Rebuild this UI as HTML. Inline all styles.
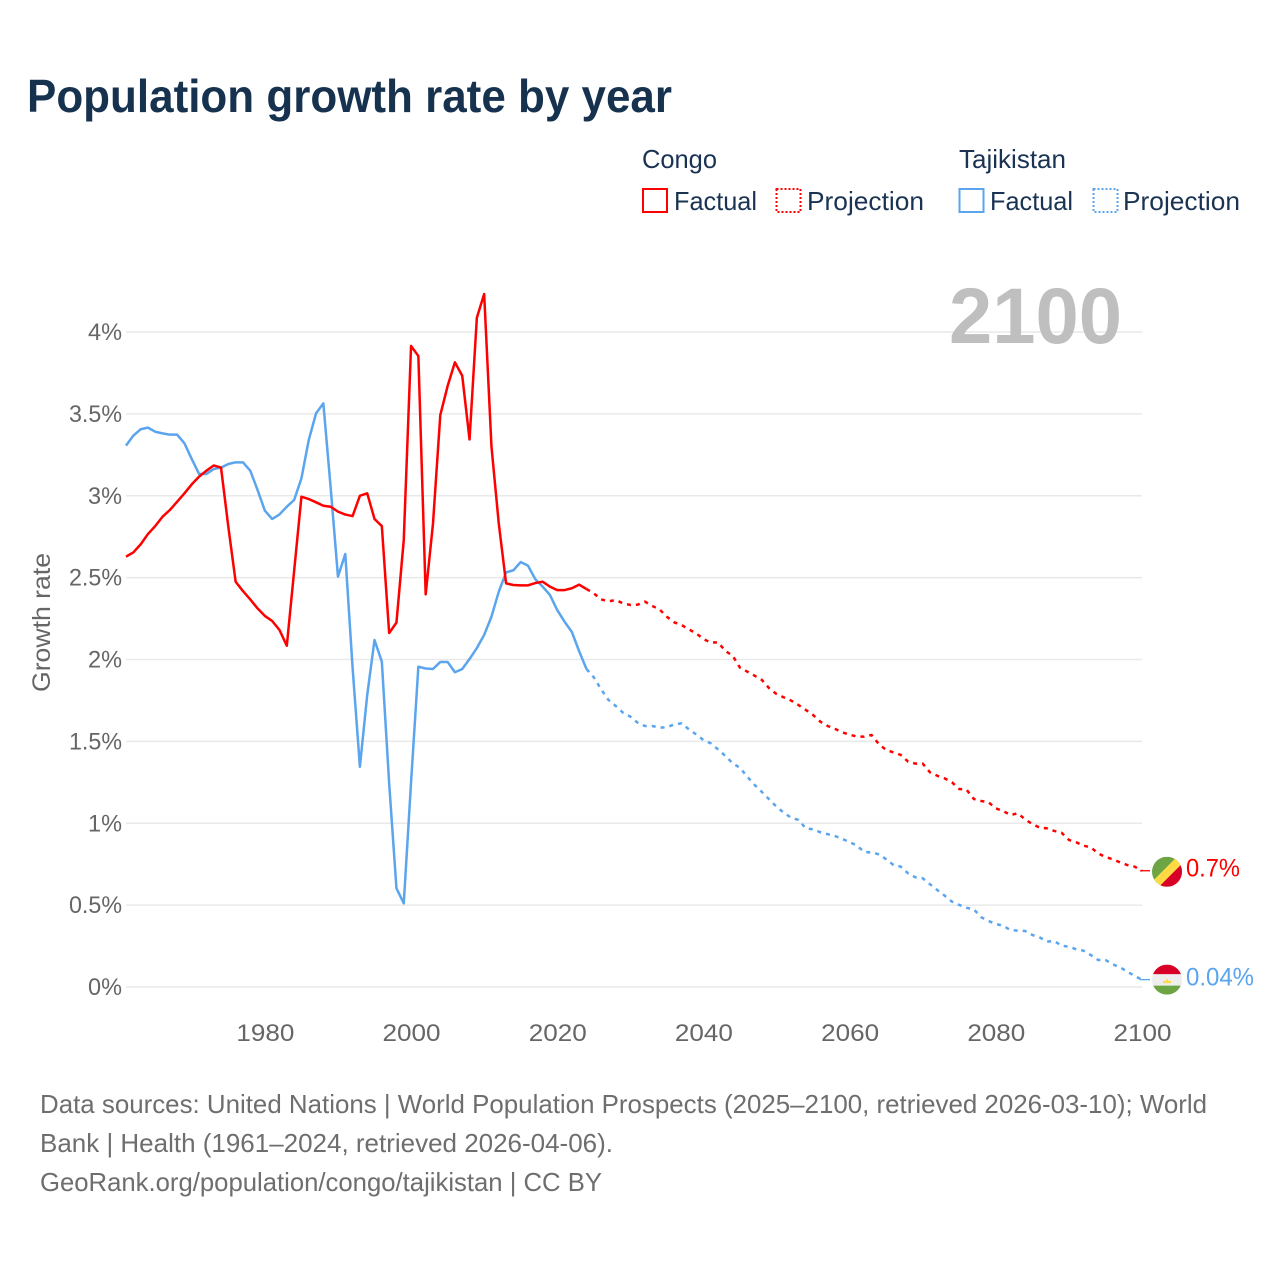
<!DOCTYPE html>
<html lang="en">
<head>
<meta charset="utf-8">
<title>Population growth rate by year</title>
<style>
html,body{margin:0;padding:0;background:#fff;}
svg{display:block;font-family:"Liberation Sans",sans-serif;}
</style>
</head>
<body>
<svg id="chart" xmlns="http://www.w3.org/2000/svg" width="1280" height="1280" viewBox="0 0 1280 1280">
  <defs>
    <clipPath id="flag-clip"><circle cx="0" cy="0" r="15"/></clipPath>
  </defs>
  <rect x="0" y="0" width="1280" height="1280" fill="#ffffff"/>
  <text x="27" y="112" font-size="46.5" font-weight="700" fill="#17324f" textLength="645" lengthAdjust="spacingAndGlyphs">Population growth rate by year</text>

  <g font-size="26" fill="#1a3353">
    <text x="642" y="168" textLength="75" lengthAdjust="spacingAndGlyphs">Congo</text>
    <text x="959" y="168" textLength="107" lengthAdjust="spacingAndGlyphs">Tajikistan</text>
    <rect x="643" y="189" width="24" height="23" fill="none" stroke="#ff0000" stroke-width="2"/>
    <text x="674" y="210" textLength="83" lengthAdjust="spacingAndGlyphs">Factual</text>
    <rect x="776.5" y="189" width="24" height="23" fill="none" stroke="#ff0000" stroke-width="2" stroke-dasharray="2 2"/>
    <text x="807" y="210" textLength="117" lengthAdjust="spacingAndGlyphs">Projection</text>
    <rect x="959.5" y="189" width="24" height="23" fill="none" stroke="#5aa5ee" stroke-width="2"/>
    <text x="990" y="210" textLength="83" lengthAdjust="spacingAndGlyphs">Factual</text>
    <rect x="1093.5" y="189" width="24" height="23" fill="none" stroke="#5aa5ee" stroke-width="2" stroke-dasharray="2 2"/>
    <text x="1123" y="210" textLength="117" lengthAdjust="spacingAndGlyphs">Projection</text>
  </g>

  <g id="grid"></g>
  <g id="y-axis"></g>
  <g id="x-axis"></g>
  <text transform="translate(50,692) rotate(-90)" x="0" y="0" font-size="25" fill="#666666" textLength="139" lengthAdjust="spacingAndGlyphs">Growth rate</text>

  <text x="949" y="343" font-size="79" font-weight="700" fill="#bfbfbf" textLength="173" lengthAdjust="spacingAndGlyphs">2100</text>

  <g id="series"></g>

  <g id="flag-congo" clip-path="url(#flag-clip)">
    <rect x="-15" y="-15" width="30" height="30" fill="#6da544"/>
    <polygon points="-15,10 10,-15 15,-15 15,15 -15,15" fill="#ffda44"/>
    <polygon points="15,-8 15,15 -8,15" fill="#d80027"/>
  </g>
  <g id="flag-tajikistan" clip-path="url(#flag-clip)">
    <rect x="-15" y="-15" width="30" height="30" fill="#eeeeee"/>
    <rect x="-15" y="-15" width="30" height="9.5" fill="#d80027"/>
    <rect x="-15" y="6" width="30" height="9" fill="#6da544"/>
    <path d="M-4,3.5 L-4,0.5 L-2,2 L0,-1 L2,2 L4,0.5 L4,3.5 Z" fill="#ffda44"/>
  </g>

  <g id="end-labels"></g>

  <g font-size="26" fill="#6e6e6e">
    <text x="40" y="1113" textLength="1167" lengthAdjust="spacingAndGlyphs">Data sources: United Nations | World Population Prospects (2025–2100, retrieved 2026-03-10); World</text>
    <text x="40" y="1152" textLength="573" lengthAdjust="spacingAndGlyphs">Bank | Health (1961–2024, retrieved 2026-04-06).</text>
    <text x="40" y="1191" textLength="562" lengthAdjust="spacingAndGlyphs">GeoRank.org/population/congo/tajikistan | CC BY</text>
  </g>
</svg>
<script>
const factualStartYear = 1961;
const projectionStartYear = 2024;
const lastYear = 2100;

const xTickYears = [1980, 2000, 2020, 2040, 2060, 2080, 2100];
const yTickValues = [0, 0.5, 1, 1.5, 2, 2.5, 3, 3.5, 4];
const yTickLabels = ["0%", "0.5%", "1%", "1.5%", "2%", "2.5%", "3%", "3.5%", "4%"];
const endLabelCongo = "0.7%";
const endLabelTajikistan = "0.04%";

const congoFactual = [
  2.628, 2.654, 2.703, 2.766, 2.815, 2.872, 2.913, 2.964, 3.015, 3.07,
  3.117, 3.153, 3.185, 3.172, 2.81, 2.475, 2.418, 2.367, 2.312, 2.266,
  2.235, 2.18, 2.084, 2.54, 2.994, 2.98, 2.96, 2.939, 2.933, 2.903,
  2.885, 2.876, 3.0, 3.015, 2.858, 2.815, 2.162, 2.225, 2.73, 3.915,
  3.853, 2.398, 2.83, 3.493, 3.67, 3.815, 3.733, 3.344, 4.087, 4.232,
  3.3, 2.83, 2.465, 2.455, 2.453, 2.453, 2.467, 2.475, 2.445, 2.424,
  2.424, 2.435, 2.457, 2.43
];

const congoProjection = [
  2.43, 2.404, 2.367, 2.355, 2.363, 2.343, 2.333, 2.335, 2.353, 2.327,
  2.306, 2.261, 2.227, 2.211, 2.184, 2.16, 2.125, 2.103, 2.105, 2.052,
  2.023, 1.95, 1.926, 1.901, 1.875, 1.824, 1.789, 1.769, 1.749, 1.722,
  1.692, 1.661, 1.62, 1.594, 1.576, 1.555, 1.541, 1.529, 1.529, 1.539,
  1.484, 1.447, 1.433, 1.417, 1.376, 1.364, 1.364, 1.311, 1.29, 1.274,
  1.25, 1.209, 1.205, 1.148, 1.136, 1.128, 1.091, 1.075, 1.05, 1.061,
  1.024, 0.995, 0.973, 0.969, 0.953, 0.942, 0.898, 0.884, 0.863, 0.853,
  0.816, 0.794, 0.78, 0.761, 0.745, 0.735, 0.71
];

const tajikistanFactual = [
  3.306, 3.367, 3.406, 3.416, 3.391, 3.381, 3.373, 3.373, 3.32, 3.224,
  3.133, 3.133, 3.163, 3.172, 3.194, 3.204, 3.204, 3.153, 3.035, 2.909,
  2.858, 2.886, 2.933, 2.974, 3.106, 3.34, 3.503, 3.564, 3.05, 2.506,
  2.644, 1.95, 1.345, 1.783, 2.119, 1.987, 1.246, 0.603, 0.511, 1.25,
  1.956, 1.945, 1.942, 1.985, 1.985, 1.922, 1.942, 2.003, 2.07, 2.15,
  2.262, 2.414, 2.532, 2.545, 2.595, 2.573, 2.49, 2.445, 2.394, 2.302,
  2.231, 2.168, 2.05, 1.942
];

const tajikistanProjection = [
  1.942, 1.891, 1.818, 1.753, 1.716, 1.675, 1.651, 1.614, 1.594, 1.594,
  1.584, 1.586, 1.604, 1.61, 1.574, 1.543, 1.508, 1.488, 1.451, 1.411,
  1.366, 1.339, 1.284, 1.234, 1.191, 1.146, 1.101, 1.064, 1.034, 1.02,
  0.969, 0.963, 0.945, 0.933, 0.922, 0.904, 0.885, 0.863, 0.824, 0.822,
  0.81, 0.78, 0.745, 0.735, 0.694, 0.67, 0.664, 0.627, 0.592, 0.558,
  0.521, 0.501, 0.484, 0.474, 0.426, 0.403, 0.385, 0.374, 0.348, 0.344,
  0.342, 0.318, 0.303, 0.277, 0.281, 0.252, 0.246, 0.23, 0.222, 0.195,
  0.165, 0.165, 0.139, 0.12, 0.094, 0.067, 0.045
];

const SVG_NS = "http://www.w3.org/2000/svg";
const plotLeft = 126;
const plotRight = 1142;
const zeroY = 987;
const pxPerPercent = 163.75;
const RED = "#ff0000";
const BLUE = "#5aa5ee";

function xScale(year) {
  return plotLeft + (year - factualStartYear) * (plotRight - plotLeft) / (lastYear - factualStartYear);
}
function yScale(value) {
  return zeroY - value * pxPerPercent;
}
function make(tag, attrs, parent) {
  const el = document.createElementNS(SVG_NS, tag);
  Object.keys(attrs).forEach(function (k) { el.setAttribute(k, attrs[k]); });
  parent.appendChild(el);
  return el;
}
function seriesPoints(values, startYear) {
  return values.map(function (v, i) {
    return xScale(startYear + i).toFixed(2) + "," + yScale(v).toFixed(2);
  }).join(" ");
}

const gridGroup = document.getElementById("grid");
const yAxisGroup = document.getElementById("y-axis");
yTickValues.forEach(function (value, i) {
  const line = make("line", { x1: plotLeft, x2: plotRight, y1: yScale(value), y2: yScale(value), stroke: "#e9e9e9", "stroke-width": 1.5 }, gridGroup);
  
  
  const label = yTickLabels[i];
  const wide = label.length > 2;
  const tick = make("text", { x: wide ? 69 : 88, y: yScale(value) + 8, "font-size": 24.5, fill: "#666666", textLength: wide ? 53 : 34, lengthAdjust: "spacingAndGlyphs" }, yAxisGroup);
  
  
  tick.textContent = label;
});

const xAxisGroup = document.getElementById("x-axis");
xTickYears.forEach(function (year) {
  const tick = make("text", { x: xScale(year) + 0.5, y: 1041, "font-size": 24.5, fill: "#666666", "text-anchor": "middle", textLength: 58, lengthAdjust: "spacingAndGlyphs" }, xAxisGroup);
  
  
  tick.textContent = String(year);
});

const seriesGroup = document.getElementById("series");

const tajikFactualLine = make("polyline", { points: seriesPoints(tajikistanFactual, factualStartYear), fill: "none", stroke: BLUE, "stroke-width": 2.5, "stroke-linejoin": "round" }, seriesGroup);



const congoFactualLine = make("polyline", { points: seriesPoints(congoFactual, factualStartYear), fill: "none", stroke: RED, "stroke-width": 2.5, "stroke-linejoin": "round" }, seriesGroup);



const tajikProjectionLine = make("polyline", { points: seriesPoints(tajikistanProjection, projectionStartYear), fill: "none", stroke: BLUE, "stroke-width": 2.5, "stroke-dasharray": "4 5" }, seriesGroup);



const congoProjectionLine = make("polyline", { points: seriesPoints(congoProjection, projectionStartYear), fill: "none", stroke: RED, "stroke-width": 2.5, "stroke-dasharray": "4 5" }, seriesGroup);



const congoEndValue = congoProjection[congoProjection.length - 1];
const tajikEndValue = tajikistanProjection[tajikistanProjection.length - 1];

const congoConnector = make("line", { x1: plotRight - 2, x2: plotRight + 8, y1: yScale(congoEndValue), y2: yScale(congoEndValue), stroke: RED, "stroke-width": 1.3 }, seriesGroup);



const tajikConnector = make("line", { x1: plotRight - 2, x2: plotRight + 8, y1: yScale(tajikEndValue), y2: yScale(tajikEndValue), stroke: BLUE, "stroke-width": 1.3 }, seriesGroup);



document.getElementById("flag-congo").setAttribute("transform", "translate(1167," + (yScale(congoEndValue) + 1).toFixed(2) + ")");
document.getElementById("flag-tajikistan").setAttribute("transform", "translate(1167," + yScale(tajikEndValue).toFixed(2) + ")");

const endGroup = document.getElementById("end-labels");
const congoLabel = make("text", { x: 1186, y: yScale(congoEndValue) + 6, "font-size": 25, fill: RED, textLength: 54, lengthAdjust: "spacingAndGlyphs" }, endGroup);


congoLabel.textContent = endLabelCongo;

const tajikLabel = make("text", { x: 1186, y: yScale(tajikEndValue) + 6, "font-size": 25, fill: BLUE, textLength: 68, lengthAdjust: "spacingAndGlyphs" }, endGroup);


tajikLabel.textContent = endLabelTajikistan;
</script>
</body>
</html>
